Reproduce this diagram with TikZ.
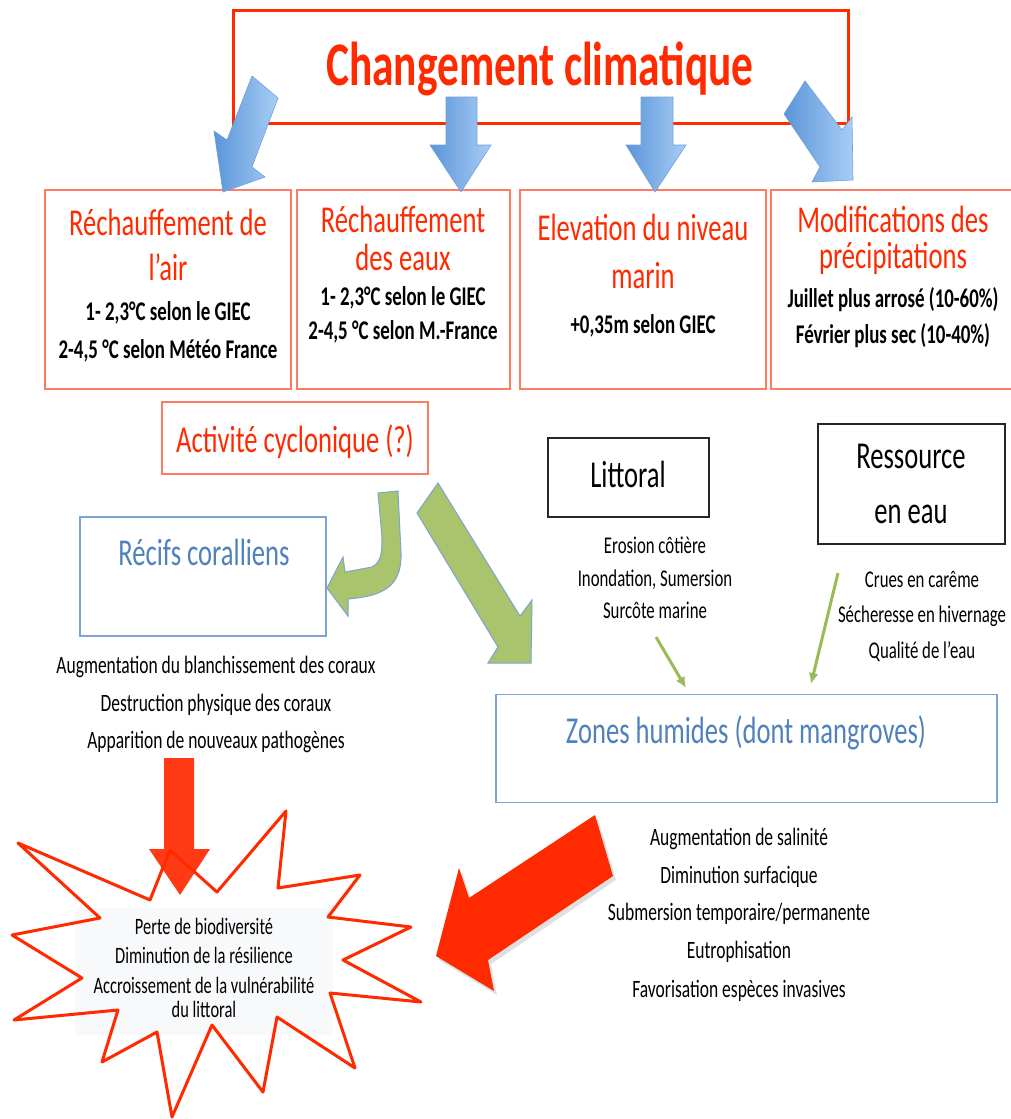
\documentclass[tikz,border=0pt]{standalone}
\usepackage{fontspec}
\setmainfont{Carlito}[FakeStretch=0.7]
\usetikzlibrary{arrows.meta}
\definecolor{tred}{HTML}{FF2A00}
\definecolor{bred}{HTML}{FF7B63}
\definecolor{tblue}{HTML}{4F81BD}
\definecolor{bblue}{HTML}{7BA3D3}
\definecolor{gfill}{HTML}{A9C46C}
\definecolor{gline}{HTML}{9BBB59}
\definecolor{abA}{HTML}{5B95D8}
\definecolor{abB}{HTML}{A8CDF6}
\definecolor{abL}{HTML}{6FA0DA}
\definecolor{stbg}{HTML}{F8F9FB}
\tikzset{
  txt/.style={inner sep=0pt, anchor=base},
  ttl/.style={txt, text=tred, font=\fontsize{62}{70}\selectfont\bfseries},
  rhead/.style={txt, text=tred, font=\fontsize{38}{44}\selectfont},
  bhead/.style={txt, text=tblue, font=\fontsize{38}{44}\selectfont},
  khead/.style={txt, text=black, font=\fontsize{38}{44}\selectfont},
  det/.style={txt, font=\fontsize{27}{30}\selectfont\bfseries},
  lst/.style={txt, font=\fontsize{25}{28}\selectfont},
  lsts/.style={txt, font=\fontsize{24}{28}\selectfont},
  sttxt/.style={txt, font=\fontsize{23.5}{26}\selectfont},
  frame/.style={draw, inner sep=0pt},
  redbox/.style={frame, draw=bred, line width=2pt},
  bluebox/.style={frame, draw=bblue, line width=1.6pt},
  blackbox/.style={frame, draw=black!85, line width=1.8pt},
  bluearrow/.style={left color=abA, right color=abB, draw=abL, line width=0.6pt},
  greenarrow/.style={fill=gfill, draw=bblue, line width=1pt},
  thinarrow/.style={draw=gline, line width=3pt, -{Latex[length=11pt,width=10pt]}},
  redarrow/.style={fill=tred}
}
\begin{document}
\begin{tikzpicture}[x=1pt,y=-1pt]
\useasboundingbox[fill=white] (0,0) rectangle (1010,1119);

% title box
\node[frame, draw=tred, line width=3pt, minimum width=615pt, minimum height=113pt] (top) at (540.5,66.5) {};
\node[ttl] (toptxt) at (540,85) {Changement climatique};

% four boxes
\node[redbox, minimum width=246pt, minimum height=199pt] (b1) at (168,289.5) {};
\node[redbox, minimum width=213pt, minimum height=199pt] (b2) at (403.5,289.5) {};
\node[redbox, minimum width=246pt, minimum height=199pt] (b3) at (643,289.5) {};
\node[redbox, minimum width=244pt, minimum height=199pt] (b4) at (893,289.5) {};

% blue arrows
\path[bluearrow] (252,76) -- (278,98) -- (252,167) -- (265,177) -- (223,192) -- (214,131) -- (227,140) -- cycle;
\path[bluearrow] (446,97) -- (477,97) -- (477,145) -- (491,145) -- (461,192) -- (430,145) -- (446,145) -- cycle;
\path[bluearrow] (641,97) -- (673,97) -- (673,145) -- (686,145) -- (655,192) -- (626,145) -- (641,145) -- cycle;
\path[bluearrow] (805,81) -- (842,130) -- (852,117) -- (853,180) -- (812,182) -- (820,167) -- (784,114) -- cycle;

% box texts
\node[rhead] (b1a) at (168,235) {Réchauffement de};
\node[rhead] (b1b) at (168,280) {l’air};
\node[det] (b1c) at (168,320) {1- 2,3°C selon le GIEC};
\node[det] (b1d) at (168,358) {2-4,5 °C selon Météo France};

\node[rhead] (b2a) at (403,232) {Réchauffement};
\node[rhead] (b2b) at (403,270) {des eaux};
\node[det] (b2c) at (403,305) {1- 2,3°C selon le GIEC};
\node[det] (b2d) at (403,339) {2-4,5 °C selon M.-France};

\node[rhead] (b3a) at (643,240) {Elevation du niveau};
\node[rhead] (b3b) at (643,288) {marin};
\node[det] (b3c) at (643,333) {+0,35m selon GIEC};

\node[rhead] (b4a) at (893,232) {Modifications des};
\node[rhead] (b4b) at (893,268) {précipitations};
\node[det] (b4c) at (893,307) {Juillet plus arrosé (10-60\%)};
\node[det] (b4d) at (893,343) {Février plus sec (10-40\%)};

% cyclonic activity
\node[redbox, minimum width=266pt, minimum height=72pt] (cyc) at (295,438) {};
\node[rhead] (cyctxt) at (295,452) {Activité cyclonique (?)};

% coral reefs
\node[bluebox, minimum width=246pt, minimum height=119pt] (rec) at (203,576.5) {};
\node[bhead] (rectxt) at (204,565) {Récifs coralliens};
\node[lst] (r1) at (216,673) {Augmentation du blanchissement des coraux};
\node[lst] (r2) at (216,711) {Destruction physique des coraux};
\node[lst] (r3) at (216,748) {Apparition de nouveaux pathogènes};

% green arrows
\path[greenarrow] (378,493) -- (398,491) -- (401,553) .. controls (402,585) and (385,596) .. (348,599) -- (348,616) -- (327,588) -- (343,557) -- (345,572) -- (372,567) .. controls (382,562) and (382,550) .. (382,537) -- cycle;
\path[greenarrow] (438,483) -- (417,513) -- (498,647) -- (488,663) -- (531,663) -- (532,600) -- (520,616) -- cycle;

% littoral
\node[blackbox, minimum width=161pt, minimum height=79pt] (lit) at (628.5,477.5) {};
\node[khead] (littxt) at (628,487) {Littoral};
\node[lsts] (l1) at (655,553) {Erosion côtière};
\node[lsts] (l2) at (655,586) {Inondation, Sumersion};
\node[lsts] (l3) at (655,618) {Surcôte marine};

% water resource
\node[blackbox, minimum width=187pt, minimum height=120pt] (res) at (911.5,484) {};
\node[khead] (res1) at (911,468) {Ressource};
\node[khead] (res2) at (911,523) {en eau};
\node[lsts] (w1) at (922,587) {Crues en carême};
\node[lsts] (w2) at (922,622) {Sécheresse en hivernage};
\node[lsts] (w3) at (922,658) {Qualité de l’eau};

% wetlands
\node[bluebox, minimum width=501pt, minimum height=108pt] (zh) at (746.5,748.5) {};
\node[bhead] (zhtxt) at (746,743) {Zones humides (dont mangroves)};
\node[lst] (z1) at (739,845) {Augmentation de salinité};
\node[lst] (z2) at (739,883) {Diminution surfacique};
\node[lst] (z3) at (739,920) {Submersion temporaire/permanente};
\node[lst] (z4) at (739,958) {Eutrophisation};
\node[lst] (z5) at (739,997) {Favorisation espèces invasives};

% thin green arrows
\coordinate (la) at (656,637);
\coordinate (lb) at (686,688);
\coordinate (wa) at (838,573);
\coordinate (wb) at (811,684);
\draw[thinarrow] (la) -- (lb);
\draw[thinarrow] (wa) -- (wb);

% star
\fill[stbg] (75,908) rectangle (333,1035);
\draw[tred, line width=3pt, line join=round]
  (18,843) -- (150,900) -- (170,850) -- (217,892) -- (286,811) -- (278,888) -- (360,875) -- (328,917)
  -- (411,927) -- (343,960) -- (421,1002) -- (330,993) -- (355,1068) -- (277,1017) -- (263,1092)
  -- (212,1025) -- (172,1117) -- (157,1032) -- (102,1062) -- (118,1010) -- (14,1020) -- (82,978)
  -- (12,935) -- (100,918) -- cycle;
\node[sttxt] (s1) at (204,934) {Perte de biodiversité};
\node[sttxt] (s2) at (204,963) {Diminution de la résilience};
\node[sttxt] (s3) at (204,993) {Accroissement de la vulnérabilité};
\node[sttxt] (s4) at (204,1017) {du littoral};

% red arrows
\path[redarrow, opacity=0.92] (164,758) -- (194,758) -- (194,849) -- (210,849) -- (180,895) -- (149,849) -- (164,849) -- cycle;
\fill[black, opacity=0.12] (598,819) -- (616,880) -- (491,964) -- (497,995) -- (439,960) -- (462,872) -- (472,902) -- cycle;
\path[redarrow] (595,815) -- (613,876) -- (488,960) -- (494,991) -- (436,956) -- (459,868) -- (469,898) -- cycle;
\end{tikzpicture}
\end{document}
